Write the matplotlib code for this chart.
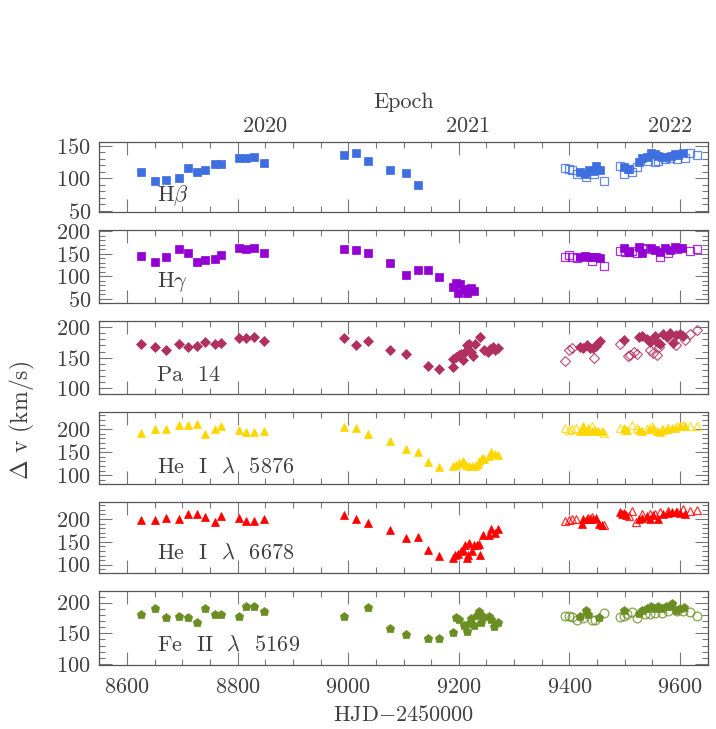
import matplotlib
matplotlib.use("Agg")
import matplotlib.pyplot as plt
from matplotlib.ticker import MultipleLocator

plt.rcParams['font.family'] = ['cmr10', 'DejaVu Serif']
plt.rcParams['mathtext.fontset'] = 'cm'
plt.rcParams['axes.formatter.use_mathtext'] = True
plt.rcParams['axes.unicode_minus'] = False

# ---------------- data (HJD-2450000, km/s) ----------------
hb_fill = [(8625,109),(8650,95),(8670,97),(8695,100),(8711,116),(8727,109),(8742,113),(8759,121),(8770,121),
           (8802,131),(8816,131),(8830,132),(8848,123),(8992,136),(9014,138),(9035,127),(9076,112),(9105,108),
           (9126,89),(9419,109),(9428,106),(9436,113),(9442,111),(9448,118),(9455,112),(9499,117),(9505,114),
           (9525,124),(9532,131),(9540,133),(9547,138),(9554,137),(9561,134),(9568,132),(9575,133),(9583,134),
           (9590,137),(9596,136),(9606,138)]
hb_open = [(9392,115),(9399,114),(9405,112),(9413,106),(9430,101),(9445,106),(9463,95),(9492,119),(9499,107),
           (9507,114),(9514,110),(9522,117),(9542,127),(9554,124),(9561,127),(9573,129),(9582,131),(9594,130),
           (9609,131),(9618,139),(9630,135)]

hg_fill = [(8625,146),(8650,132),(8670,142),(8695,160),(8711,151),(8727,132),(8742,137),(8759,139),(8770,147),
           (8802,164),(8816,160),(8830,163),(8848,152),(8992,160),(9014,159),(9035,151),(9076,129),(9105,102),
           (9126,114),(9145,114),(9164,99),(9190,76),(9195,86),(9202,82),(9198,62),(9210,72),(9215,62),(9222,73),
           (9227,67),(9419,142),(9428,145),(9436,142),(9442,144),(9448,144),(9455,140),(9499,162),(9507,155),
           (9525,166),(9531,151),(9547,163),(9555,159),(9564,155),(9573,162),(9582,159),(9590,166),(9596,162),
           (9603,164)]
hg_open = [(9392,144),(9399,148),(9405,142),(9413,140),(9440,134),(9463,124),(9492,156),(9501,154),(9508,154),
           (9514,156),(9522,151),(9532,162),(9540,161),(9564,144),(9579,151),(9594,161),(9618,157),(9630,161)]

pa_fill = [(8625,172),(8650,168),(8670,162),(8695,173),(8711,168),(8727,169),(8742,175),(8759,173),(8770,174),
           (8802,182),(8816,182),(8830,183),(8848,177),(8992,182),(9014,170),(9035,177),(9076,162),(9105,156),
           (9145,137),(9164,131),(9190,134),(9190,147),(9195,151),(9200,155),(9204,156),(9208,146),(9211,159),
           (9215,170),(9219,172),(9222,160),(9226,152),(9230,172),(9238,184),(9246,163),(9253,159),(9257,164),
           (9261,168),(9265,163),(9270,166),(9419,168),(9425,165),(9431,171),(9437,165),(9443,165),(9448,169),
           (9451,174),(9455,177),(9498,179),(9525,183),(9532,185),(9540,181),(9546,175),(9554,185),(9558,175),
           (9564,173),(9570,189),(9576,184),(9582,190),(9588,174),(9592,187),(9600,189),(9606,185)]
pa_open = [(9392,145),(9399,162),(9405,165),(9445,150),(9492,172),(9505,153),(9510,154),(9516,160),(9522,156),
           (9546,163),(9552,157),(9558,155),(9562,167),(9592,171),(9609,179),(9618,189),(9630,195)]

he1_fill = [(8625,191),(8650,201),(8670,200),(8695,208),(8711,208),(8727,212),(8742,190),(8759,201),(8770,207),
            (8802,199),(8816,194),(8830,193),(8848,195),(8992,204),(9014,203),(9035,189),(9076,175),(9105,157),
            (9126,150),(9145,128),(9164,117),(9189,119),(9195,122),(9201,126),(9207,131),(9213,121),(9219,119),
            (9224,120),(9229,119),(9234,124),(9237,131),(9242,138),(9246,135),(9255,141),(9259,151),(9265,146),
            (9271,144),(9419,197),(9424,207),(9428,197),(9434,202),(9440,197),(9446,199),(9452,197),(9458,195),
            (9498,203),(9504,199),(9525,199),(9532,197),(9543,200),(9552,203),(9558,197),(9564,194),(9570,199),
            (9576,200),(9585,202),(9591,203),(9600,206),(9609,207)]
he1_open = [(9392,202),(9399,199),(9405,200),(9411,202),(9440,206),(9463,191),(9492,202),(9501,199),(9514,210),
            (9522,202),(9540,200),(9549,206),(9567,200),(9579,203),(9594,207),(9606,208),(9618,207),(9630,207)]

he2_fill = [(8625,197),(8650,197),(8670,203),(8695,199),(8711,212),(8727,211),(8742,204),(8759,193),(8770,207),
            (8802,202),(8816,195),(8830,196),(8848,201),(8992,208),(9014,200),(9035,191),(9076,176),(9105,158),
            (9126,160),(9145,131),(9164,119),(9189,114),(9194,121),(9198,124),(9204,130),(9207,133),(9212,143),
            (9215,115),(9216,122),(9219,148),(9224,130),(9227,144),(9232,144),(9236,146),(9239,121),(9243,164),
            (9255,164),(9259,178),(9265,170),(9271,179),(9422,189),(9425,199),(9431,200),(9437,201),(9443,199),
            (9448,202),(9454,190),(9458,188),(9492,215),(9495,210),(9498,213),(9502,208),(9525,201),(9532,202),
            (9540,206),(9546,199),(9552,208),(9561,201),(9570,210),(9579,213),(9585,216),(9593,215),(9600,213),
            (9609,211)]
he2_open = [(9392,195),(9399,197),(9405,199),(9411,199),(9434,202),(9440,204),(9463,186),(9507,206),(9513,218),
            (9521,193),(9532,210),(9545,211),(9555,210),(9564,215),(9579,218),(9594,216),(9606,222),(9618,218),
            (9630,220)]

fe_fill = [(8625,182),(8650,192),(8670,177),(8695,178),(8711,177),(8727,168),(8742,191),(8759,182),(8770,182),
           (8802,179),(8816,195),(8830,194),(8848,187),(8992,178),(9035,193),(9076,159),(9105,149),(9145,142),
           (9164,143),(9190,152),(9195,176),(9200,174),(9210,164),(9214,153),(9218,167),(9222,175),(9227,164),
           (9232,180),(9237,187),(9240,168),(9244,179),(9255,179),(9259,173),(9264,162),(9270,169),(9419,179),
           (9430,188),(9434,181),(9454,176),(9498,188),(9525,183),(9532,188),(9540,191),(9548,195),(9554,191),
           (9561,194),(9568,191),(9575,194),(9582,195),(9586,199),(9592,188),(9600,191),(9608,193)]
fe_open = [(9392,178),(9399,179),(9405,177),(9413,172),(9425,175),(9440,172),(9446,171),(9463,183),(9492,177),
           (9498,179),(9504,181),(9514,184),(9522,175),(9537,181),(9546,182),(9555,183),(9567,183),(9579,186),
           (9594,186),(9606,187),(9618,184),(9630,179)]

labels = ['H$\\beta$', 'H$\\gamma$', 'Pa  14', 'He  I  $\\lambda$  5876', 'He  I  $\\lambda$  6678', 'Fe  II  $\\lambda$  5169']
series = [(hb_fill, hb_open), (hg_fill, hg_open), (pa_fill, pa_open),
          (he1_fill, he1_open), (he2_fill, he2_open), (fe_fill, fe_open)]
colors = ['#3f6ee0', '#9400d3', '#b03060', '#ffd700', '#ff0000', '#6b8e23']
markers_f = ['s', 's', 'D', '^', '^', 'p']
markers_o = ['s', 's', 'D', '^', '^', 'o']
msize = [5.2, 5.2, 5.0, 6.0, 6.0, 6.3]
ylims = [(48, 155), (40, 203), (90, 210), (80, 238), (81, 238), (99, 219)]
yticks = [[50, 100, 150], [50, 100, 150, 200], [100, 150, 200], [100, 150, 200], [100, 150, 200], [100, 150, 200]]
year_ticks = [2020, 2021, 2022]

# ---------------- layout ----------------
W, H = 716, 729
fig = plt.figure(figsize=(W / 100, H / 100), dpi=100)
px_left, px_right = 99.3, 707.7
panels_px = [(142.3, 212.0), (230.0, 303.3), (321.0, 394.3), (411.7, 484.3), (501.7, 573.3), (591.0, 664.5)]
lab_frac = [0.24, 0.29, 0.26, 0.24, 0.28, 0.265]

spine_c = '#555555'
text_c = '#404040'
axes = []
for i, (top, bot) in enumerate(panels_px):
    ax = fig.add_axes([px_left / W, 1 - bot / H, (px_right - px_left) / W, (bot - top) / H])
    fcol = colors[i]
    xs, ys = zip(*series[i][0])
    xo, yo = zip(*series[i][1])
    ax.plot(xo, yo, linestyle='none', marker=markers_o[i], ms=msize[i], mfc='none',
            mec=fcol, mew=0.9, alpha=0.8)
    ax.plot(xs, ys, linestyle='none', marker=markers_f[i], ms=msize[i], mfc=fcol, mec=fcol, mew=0.5)
    ax.set_xlim(8550, 9650)
    ax.set_ylim(*ylims[i])
    ax.xaxis.set_major_locator(MultipleLocator(200))
    ax.xaxis.set_minor_locator(MultipleLocator(50))
    ax.set_yticks(yticks[i])
    ax.yaxis.set_minor_locator(MultipleLocator(10))
    ax.tick_params(which='both', direction='in', top=True, right=True, color='#777777', width=0.8,
                   labelsize=16, labelcolor=text_c)
    ax.tick_params(which='major', length=9.5, pad=6)
    ax.tick_params(which='minor', length=4.5)
    ax.tick_params(axis='x', pad=9)
    for s in ax.spines.values():
        s.set_color(spine_c)
        s.set_linewidth(0.9)
    if i < 5:
        ax.tick_params(labelbottom=False)
    ax.text(0.095, lab_frac[i], labels[i], transform=ax.transAxes, fontsize=16,
            color=text_c, va='center', ha='left')
    axes.append(ax)

axes[-1].set_xlabel('HJD$-$2450000', fontsize=16, color=text_c, labelpad=6)


def hjd2yr(h):
    return 2020 + (h - 8849.5) / 365.5


def yr2hjd(y):
    return 8849.5 + (y - 2020) * 365.5


sec = axes[0].secondary_xaxis('top', functions=(hjd2yr, yr2hjd))
sec.set_xticks(year_ticks)
sec.tick_params(length=0, pad=4.5, labelsize=16, labelcolor=text_c)
sec.spines['top'].set_visible(False)
sec.set_xlabel('Epoch', fontsize=16, color=text_c, labelpad=6)

fig.text(22 / W, 1 - 420 / H, '$\\Delta$ v (km/s)', rotation=90, fontsize=17, color=text_c,
         ha='center', va='center')

fig.savefig('out.png', dpi=100)
